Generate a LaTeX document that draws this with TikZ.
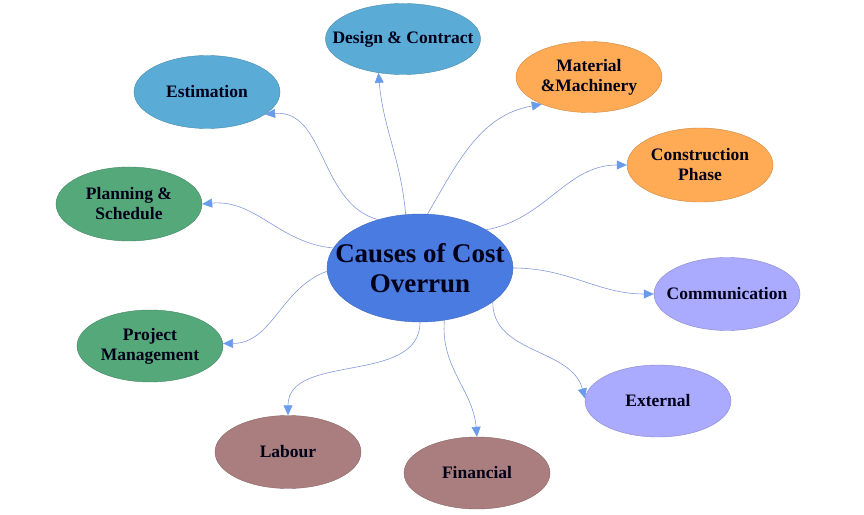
\documentclass[tikz,border=0pt]{standalone}
\usepackage{fontspec}
\setmainfont{Liberation Serif}
\usepackage{xcolor}
\usetikzlibrary{arrows.meta}
\usetikzlibrary{shapes.geometric}

\definecolor{hubblue}{HTML}{4A7BE0}
\definecolor{skyblue}{HTML}{5AABD6}
\definecolor{peach}{HTML}{FFAA55}
\definecolor{sage}{HTML}{55A87A}
\definecolor{lavender}{HTML}{AAAAFF}
\definecolor{rosewood}{HTML}{AA7E7E}
\definecolor{linkblue}{HTML}{8499D6}
\definecolor{tipblue}{HTML}{6A9BEA}

\tikzset{
  cause/.style={
    ellipse, draw=#1!80!black, line width=0.4pt, fill=#1,
    minimum width=146pt, minimum height=73pt, inner sep=0pt,
  },
  causetext/.style={
    align=center, text=black!90!blue, inner sep=0pt,
    font=\bfseries\fontsize{17.5}{20}\selectfont,
  },
  hub/.style={
    ellipse, draw=hubblue!85!black, line width=0.4pt, fill=hubblue,
    minimum width=186pt, minimum height=108pt, inner sep=0pt,
  },
  hubtext/.style={
    align=center, text=black!90!blue, inner sep=0pt,
    font=\bfseries\fontsize{27}{30}\selectfont,
  },
  link/.style={
    draw=linkblue, line width=0.6pt,
    -{Triangle[length=10pt, width=9pt, color=tipblue]},
  },
}

\begin{document}
\begin{tikzpicture}[x=1pt, y=1pt]

  \useasboundingbox (0,0) rectangle (864,514);

  % Define nodes
  \node[hub, label={[hubtext]center:Causes of Cost\\Overrun}] (overrun) at (420,246) {};

  \node[cause=skyblue, minimum width=155pt, minimum height=71pt,
        label={[causetext]center:Design \& Contract}] (design) at (403,475) {};
  \node[cause=skyblue, label={[causetext]center:Estimation}] (estimation) at (207,422) {};
  \node[cause=peach, minimum height=71pt,
        label={[causetext]center:Material\\\&Machinery}] (material) at (589,437) {};
  \node[cause=peach, minimum height=74pt,
        label={[causetext]center:Construction\\Phase}] (construction) at (700,349) {};
  \node[cause=sage, minimum height=74pt,
        label={[causetext]center:Planning \&\\Schedule}] (planning) at (129,310) {};
  \node[cause=lavender, label={[causetext]center:Communication}] (communication) at (727,220) {};
  \node[cause=sage, minimum height=72pt,
        label={[causetext]center:Project\\Management}] (project) at (150,168) {};
  \node[cause=lavender, minimum height=72pt, label={[causetext]center:External}] (external) at (658,113) {};
  \node[cause=rosewood, label={[causetext]center:Labour}] (labour) at (288,62) {};
  \node[cause=rosewood, minimum height=72pt, label={[causetext]center:Financial}] (financial) at (477,41) {};

  % Connect nodes
  \draw[link] (overrun.105) to[out=95, in=-85] (design.234);
  \draw[link] (overrun.131) to[out=165, in=5] (estimation.-21);
  \draw[link] (overrun.82) to[out=60, in=190] (material.210);
  \draw[link] (overrun.30) to[out=10, in=180] (construction.west);
  \draw[link] (overrun.167) to[out=175, in=5] (planning.east);
  \draw[link] (overrun.east) to[out=0, in=180] (communication.west);
  \draw[link] (overrun.182) to[out=-160, in=0] (project.2);
  \draw[link] (overrun.-25) to[out=-90, in=105] (external.178);
  \draw[link] (overrun.south) to[out=-90, in=90] (labour.north);
  \draw[link] (overrun.-65) to[out=-95, in=95] (financial.north);

\end{tikzpicture}
\end{document}
